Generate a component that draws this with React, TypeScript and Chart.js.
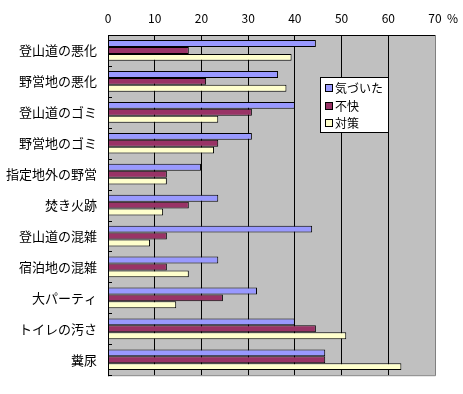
import React, { useEffect, useRef } from "react";
import { Chart, registerables } from "chart.js";

Chart.register(...registerables);

const categories = [
  "登山道の悪化",
  "野営地の悪化",
  "登山道のゴミ",
  "野営地のゴミ",
  "指定地外の野営",
  "焚き火跡",
  "登山道の混雑",
  "宿泊地の混雑",
  "大パーティ",
  "トイレの汚さ",
  "糞尿",
];
const noticed = [44.5, 36.4, 40.0, 30.8, 19.9, 23.6, 43.7, 23.6, 31.9, 40.0, 46.5];
const unpleasant = [17.3, 21.0, 30.8, 23.6, 12.6, 17.3, 12.6, 12.6, 24.6, 44.5, 46.5];
const measures = [39.3, 38.2, 23.6, 22.7, 12.6, 11.8, 9.0, 17.3, 14.6, 51.0, 62.8];
const seriesNames = ["気づいた", "不快", "対策"];
const seriesColors = ["#9999FF", "#993366", "#FFFFCC"];
const xMin = 0;
const xMax = 70;
const xStep = 10;
const unitLabel = "%";

const FONT = "'Noto Sans CJK JP', 'Noto Sans', sans-serif";

const decorPlugin = {
  id: "decor",
  beforeDraw(chart: any) {
    const { ctx, chartArea } = chart;
    ctx.save();
    ctx.fillStyle = "#C0C0C0";
    ctx.fillRect(chartArea.left, chartArea.top, chartArea.right - chartArea.left, chartArea.bottom - chartArea.top);
    ctx.restore();
  },
  afterDraw(chart: any) {
    const { ctx, chartArea } = chart;
    const { left, right, top, bottom } = chartArea;
    ctx.save();
    ctx.strokeStyle = "#808080";
    ctx.lineWidth = 1;
    ctx.beginPath();
    ctx.moveTo(right + 0.5, top);
    ctx.lineTo(right + 0.5, bottom + 0.5);
    ctx.lineTo(left, bottom + 0.5);
    ctx.stroke();
    ctx.strokeStyle = "#000";
    ctx.beginPath();
    ctx.moveTo(left + 0.5, top);
    ctx.lineTo(left + 0.5, bottom + 1);
    ctx.stroke();
    const n = categories.length;
    const h = (bottom - top) / n;
    ctx.beginPath();
    for (let i = 1; i <= n; i++) {
      const y = Math.round(top + i * h) + 0.5;
      ctx.moveTo(left, y);
      ctx.lineTo(left + 4, y);
    }
    ctx.stroke();
    ctx.fillStyle = "#000";
    ctx.font = `12px ${FONT}`;
    ctx.textBaseline = "middle";
    ctx.textAlign = "left";
    ctx.fillText(unitLabel, 447, 18);
    const lx = 320, ly = 77, lw = 68, lh = 55;
    ctx.fillStyle = "#FFFFFF";
    ctx.fillRect(lx, ly, lw, lh);
    ctx.strokeStyle = "#000";
    ctx.strokeRect(lx + 0.5, ly + 0.5, lw, lh);
    ctx.font = `12px ${FONT}`;
    for (let i = 0; i < seriesNames.length; i++) {
      const cy = 88 + i * 17.6;
      ctx.fillStyle = seriesColors[i];
      ctx.fillRect(326, Math.round(cy - 3), 6, 6);
      ctx.strokeStyle = "#000";
      ctx.strokeRect(325.5, Math.round(cy - 3) - 0.5, 7, 7);
      ctx.fillStyle = "#000";
      ctx.fillText(seriesNames[i], 335, cy + 0.5);
    }
    ctx.restore();
  },
};

export default function App() {
  const ref = useRef<HTMLCanvasElement>(null);
  useEffect(() => {
    if (!ref.current) return;
    const chart = new Chart(ref.current, {
      type: "bar",
      data: {
        labels: categories,
        datasets: [
          { label: seriesNames[0], data: noticed, backgroundColor: seriesColors[0], borderColor: "#000", borderWidth: 1 },
          { label: seriesNames[1], data: unpleasant, backgroundColor: seriesColors[1], borderColor: "#000", borderWidth: 1 },
          { label: seriesNames[2], data: measures, backgroundColor: seriesColors[2], borderColor: "#000", borderWidth: 1 },
        ],
      },
      options: {
        indexAxis: "y",
        responsive: false,
        animation: false,
        layout: { padding: { left: 0, top: 0, right: 28, bottom: 14 } },
        datasets: { bar: { categoryPercentage: 0.67, barPercentage: 1 } },
        plugins: { legend: { display: false }, tooltip: { enabled: false } },
        scales: {
          x: {
            position: "top",
            min: xMin,
            max: xMax,
            ticks: { stepSize: xStep, color: "#000", font: { family: FONT, size: 12 }, padding: 9 },
            grid: {
              drawTicks: false,
              color: (c: any) => (c.tick && c.tick.value === xMax ? "#808080" : "#000"),
              lineWidth: 1,
            },
            border: { display: true, color: "#000" },
            afterFit(scale: any) {
              scale.height = 35;
            },
          },
          y: {
            ticks: { color: "#000", font: { family: FONT, size: 13 }, padding: 11 },
            grid: { drawOnChartArea: false, drawTicks: false },
            border: { display: true, color: "#000" },
            afterFit(scale: any) {
              scale.width = 108;
            },
          },
        },
      },
      plugins: [decorPlugin],
    } as any);
    return () => chart.destroy();
  }, []);
  return (
    <div style={{ position: "absolute", left: 0, top: 0, width: 463, height: 394, background: "#fff" }}>
      <canvas ref={ref} width={463} height={394} />
    </div>
  );
}
